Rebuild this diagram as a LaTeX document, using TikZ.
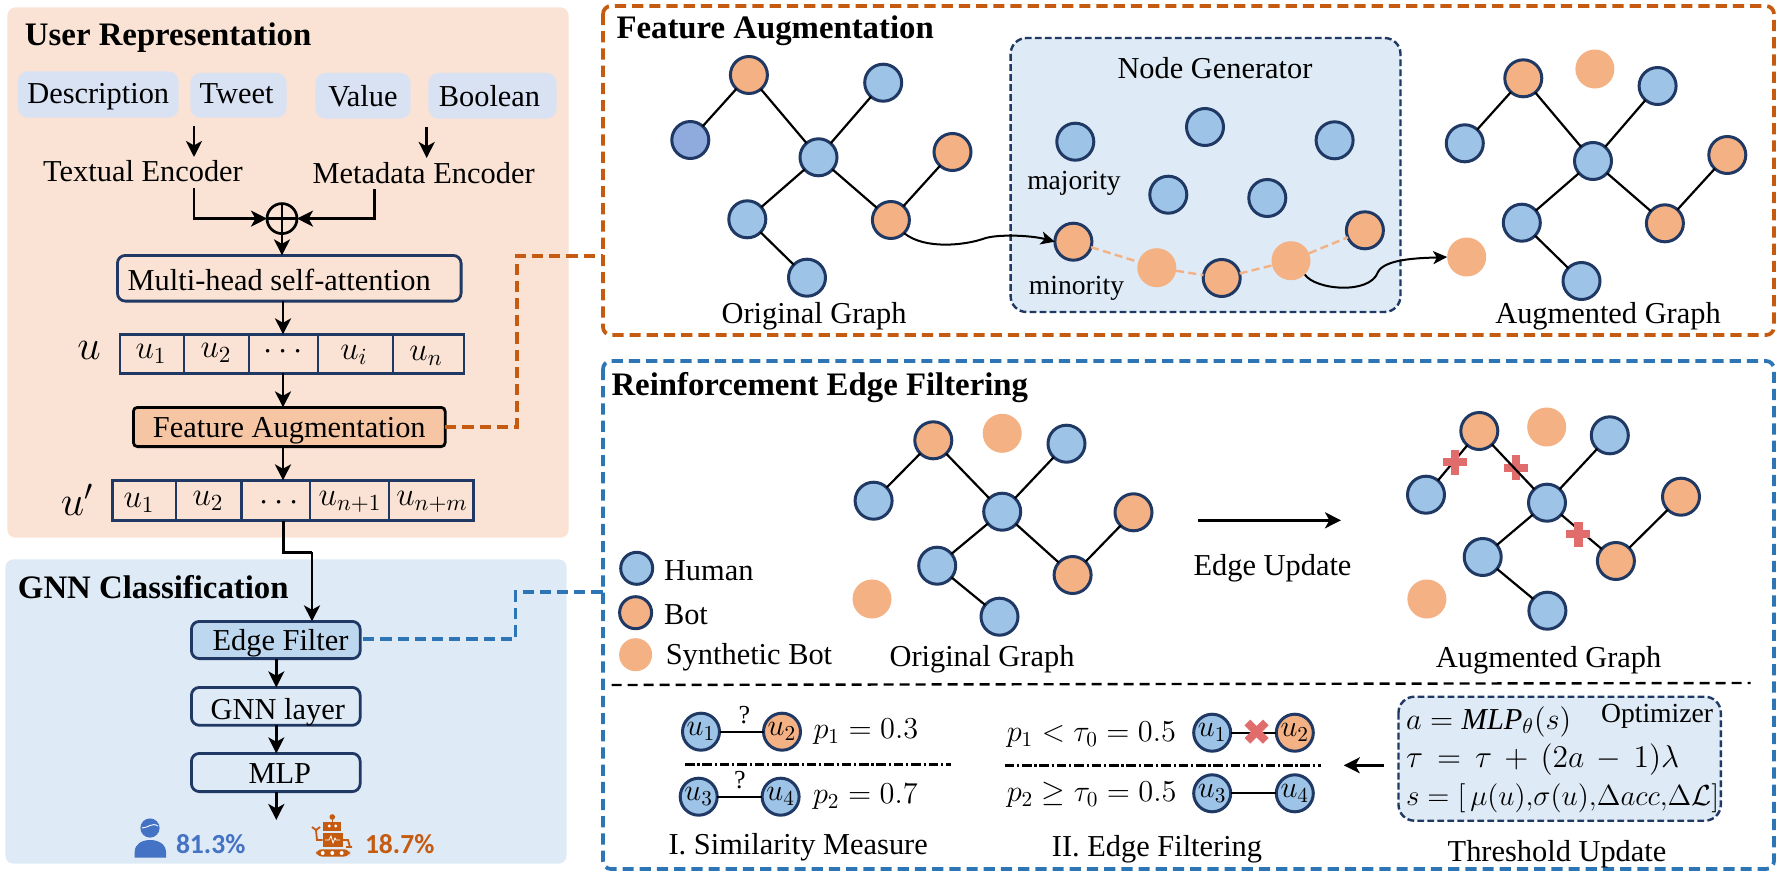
\RequirePackage{fix-cm}
\documentclass[tikz,border=0pt]{standalone}
\usepackage{fontspec}
\setmainfont{Liberation Serif}
\newfontfamily\calibri{Carlito}
\usetikzlibrary{arrows.meta}
\definecolor{panelO}{HTML}{FAE3D4}
\definecolor{panelB}{HTML}{DEEAF6}
\definecolor{chip}{HTML}{D9E2F3}
\definecolor{navy}{HTML}{1F3864}
\definecolor{nb}{HTML}{9DC3E6}
\definecolor{nbd}{HTML}{8FAADC}
\definecolor{no}{HTML}{F4B183}
\definecolor{dkO}{HTML}{C55A11}
\definecolor{dkB}{HTML}{2E75B6}
\definecolor{faFill}{HTML}{F6C6A4}
\definecolor{efFill}{HTML}{BDD7EE}
\definecolor{redx}{HTML}{E06C6C}
\definecolor{pctB}{HTML}{4472C4}
\newcommand\fsA{\fontsize{15.2}{18}\selectfont}
\newcommand\fsB{\fontsize{13.8}{16}\selectfont}
\newcommand\fsT{\bfseries\fontsize{16.4}{19}\selectfont}
\newcommand\fsU{\fontsize{21}{24}\selectfont}
\newcommand\fsC{\fontsize{16.5}{19}\selectfont}
\newcommand\lowr[2]{\raisebox{-#1}[\height][\depth]{#2}}
\tikzset{
  every node/.style={font=\fsA,inner sep=0pt,outer sep=0pt},
  arr/.style={line width=1.35pt,-{Stealth[length=8pt,width=8pt,inset=2.2pt]}},
  thin arr/.style={line width=1pt,-{Stealth[length=7pt,width=6.5pt,inset=1.8pt]}},
  edge/.style={line width=1.1pt},
  gn/.style={circle,draw=navy,line width=1.5pt,minimum size=18.5pt},
  syn/.style={circle,fill=no,minimum size=19.5pt},
  pbox/.style={draw=navy,line width=1.4pt,rounded corners=4pt},
  cellr/.style={draw=navy,line width=1.4pt},
  cellt/.style={font=\fsC},
  ttl/.style={font=\fsT,anchor=west},
  chipbox/.style={fill=chip,rounded corners=5pt},
  orangeD/.style={draw=dkO,line width=1.9pt,dash pattern=on 5.6pt off 3pt},
  blueD/.style={draw=dkB,line width=1.9pt,dash pattern=on 5.6pt off 3pt},
  navyD/.style={draw=navy,fill=panelB,line width=1.2pt,dash pattern=on 3.4pt off 1.6pt,rounded corners=8pt},
  ddot/.style={line width=1.2pt,dash pattern=on 4.8pt off 1.4pt on 1.1pt off 1.4pt},
}
\newcommand\pxbox[7][]{\node[#1,minimum width={(#5-#3)*0.5pt-1.4pt},minimum height={(#6-#4)*0.5pt-1.4pt}] (#2) at ({(#3+#5)/2},{(#4+#6)/2}) {#7};}
\newcommand\treeedges[1]{\draw[edge] (#1B)--(#1A) (#1A)--(#1D) (#1C)--(#1D) (#1D)--(#1F) (#1D)--(#1G) (#1E)--(#1G) (#1F)--(#1H);}
\newcommand\plusmark[2]{\fill[redx] ({#1-12},{#2-4.2}) rectangle ({#1+12},{#2+4.2}); \fill[redx] ({#1-4.2},{#2-12.5}) rectangle ({#1+4.2},{#2+12.5});}
\begin{document}
\begin{tikzpicture}[x=0.5pt,y=-0.5pt]
\useasboundingbox (0,0) rectangle (1785,878);
\fill[white] (0,0) rectangle (1785,878);
% panels
\pxbox[fill=panelO,rounded corners=4pt]{pUR}{6}{6}{570}{539}{}
\pxbox[fill=panelB,rounded corners=4pt]{pGNN}{4}{558}{568}{865}{}
\draw[orangeD,rounded corners=4pt] (603,6) rectangle (1774,335);
\draw[blueD,rounded corners=4pt] (603,361) rectangle (1774,869);
\node[ttl] (tUR) at (25,38) {User Representation};
\node[ttl] (tGNN) at (18,587) {GNN Classification};
\node[ttl] (tFA) at (616.5,31) {Feature Augmentation};
\node[ttl] (tRE) at (611.5,388) {Reinforcement Edge Filtering};
% chips
\pxbox[chipbox]{cD}{16.5}{70}{180}{119}{\lowr{1pt}{Description}}
\pxbox[chipbox]{cT}{189}{71.5}{288}{119}{\hspace*{-2pt}\lowr{-.8pt}{Tweet}}
\pxbox[chipbox]{cV}{314}{71.5}{412}{120}{\lowr{0pt}{Value}}
\pxbox[chipbox]{cB}{427}{71.5}{558}{120}{\hspace*{-3pt}Boolean}
\node (enT) at (143,171.5) {Textual Encoder};
\node (enM) at (423.6,173) {Metadata Encoder};
\coordinate (ta) at (194,126); \coordinate (tb) at (194,157);
\coordinate (ma) at (426.7,127); \coordinate (mb) at (426.7,158);
\draw[arr] (ta)--(tb);
\draw[arr] (ma)--(mb);
\node[circle,draw=black,line width=1.35pt,minimum size=15pt] (op) at (282,218.6) {};
\draw[line width=1.2pt] (op.north)--(op.south) (op.west)--(op.east);
\coordinate (tc) at (194,188); \coordinate (mc) at (374.3,189);
\draw[arr] (tc)|-(op.west);
\draw[arr] (mc)|-(op.east);
\pxbox[pbox]{attn}{116}{254}{462.5}{302.5}{\lowr{1pt}{Multi-head self-attention}\hspace*{10pt}}
\draw[arr] (op.south)--(op.south |- attn.north);
\coordinate (ax) at (283,0);
% u row
\pxbox[cellr]{urow}{118.6}{333}{465.4}{374.6}{}
\draw[line width=1.1pt,navy] (183.7,333)--(183.7,374.6) (248.8,333)--(248.8,374.6) (317.6,333)--(317.6,374.6) (393,333)--(393,374.6);
\node (uu) at (89,350) {\fsU$u$};
\node[cellt] (u1) at (151,354) {$u_1$};
\node[cellt] (u2) at (216,353) {$u_2$};
\node[cellt] (u3) at (283,352) {$\cdots$};
\node[cellt] (u4) at (354,355) {$u_i$};
\node[cellt] (u5) at (426,356) {$u_n$};
\draw[arr] (attn.south -| ax)--(urow.north -| ax);
\pxbox[draw=black,fill=faFill,line width=1.4pt,rounded corners=2pt]{fa}{132}{406}{446.6}{448}{\lowr{2pt}{Feature Augmentation}}
\draw[arr] (urow.south -| ax)--(fa.north -| ax);
\pxbox[cellr]{vrow}{111}{479}{474.5}{522}{}
\draw[line width=1.1pt,navy] (176,479)--(176,522) (241.5,479)--(241.5,522) (309.6,479)--(309.6,522) (389,479)--(389,522);
\node (vv) at (77,500) {\fsU$u'$};
\node[cellt] (v1) at (139,503) {$u_1$};
\node[cellt] (v2) at (208,501) {$u_2$};
\node[cellt] (v3) at (279,503) {$\cdots$};
\node[cellt] (v4) at (350,502) {$u_{n+1}$};
\node[cellt] (v5) at (432,502) {$u_{n+m}$};
\draw[arr] (fa.south -| ax)--(vrow.north -| ax);
% dashed links
\coordinate (fc1) at (516.6,427); \coordinate (fc2) at (516.6,255.7); \coordinate (fc3) at (603,255.7);
\draw[orangeD] (fa.east |- fc1)--(fc1)--(fc2)--(fc3);
% GNN stack
\pxbox[pbox,fill=efFill]{ef}{190}{620}{361.6}{660}{\hspace*{4.7pt}\lowr{1.7pt}{Edge Filter}}
\pxbox[pbox]{gl}{190}{686}{361.6}{726.7}{\hspace*{2pt}\lowr{2.8pt}{GNN layer}}
\pxbox[pbox]{mlp}{190}{752}{361.6}{793}{\hspace*{4pt}\lowr{.5pt}{MLP}}
\coordinate (bx) at (276.3,0);
\coordinate (j1) at (283,552); \coordinate (j2) at (312,552);
\draw[line width=1.5pt] (vrow.south -| ax)--(j1)--(j2);
\draw[arr] (j2)--(ef.north -| j2);
\draw[arr] (ef.south -| bx)--(gl.north -| bx);
\draw[arr] (gl.south -| bx)--(mlp.north -| bx);
\coordinate (out) at (276.3,820);
\draw[arr] (mlp.south -| bx)--(out);
\coordinate (bc1) at (515.5,639); \coordinate (bc2) at (515.5,592); \coordinate (bc3) at (603,592);
\draw[blueD] ([xshift=1.5pt]ef.east |- bc1)--(bc1)--(bc2)--(bc3);
% result icons
\fill[pctB] (134.7,857.7) -- (134.7,852) .. controls (134.7,844) and (142,840) .. (150,840) .. controls (158,840) and (166,844) .. (166,852) -- (166,857.7) -- cycle;
\fill[pctB] (150,828) circle (4.8pt);
\draw[white,line width=.45pt] (142,828) .. controls (148,828) and (152,822) .. (158,826);
\node[font=\calibri\bfseries\fontsize{13.8}{16}\selectfont,text=pctB,anchor=west] (pH) at (176,844) {81.3\%};
\fill[dkO] (323.3,821.7) rectangle (340.7,830.7);
\fill[dkO] (332.3,817) circle (1.4pt);
\draw[dkO,line width=.7pt] (332.3,817)--(332.3,822);
\fill[white] (329.3,826) circle (.8pt) (335.7,826) circle (.8pt);
\fill[dkO] (322.7,832.7) rectangle (342.7,847);
\draw[white,line width=.4pt] (325,840)--(329,840)--(331,836)--(333,843)--(335,838)--(336,840)--(340,840);
\fill[dkO,rounded corners=3pt] (316,849.3) rectangle (350,856.5);
\fill[white] (322.7,853) circle (1pt) (332.3,853) circle (1pt) (341.7,853) circle (1pt);
\draw[dkO,line width=.9pt] (322.7,840)--(317,840)--(316,830) (312,827)--(316,830)--(320,827);
\draw[dkO,line width=.9pt] (342.7,840)--(348,840)--(350,847) (346,847)--(352,847);
\node[font=\calibri\bfseries\fontsize{13.8}{16}\selectfont,text=dkO,anchor=west] (pB) at (365,844) {18.7\%};
% Feature augmentation: original graph
\foreach \n/\x/\y/\c in {A/748.9/75/no,B/690.3/140/nbd,C/883.2/82.7/nb,D/818.5/157.3/nb,E/952.5/152/no,F/747.3/219.3/nb,G/890.9/220/no,H/807/277.7/nb}
  {\node[gn,fill=\c] (a\n) at (\x,\y) {};}
\treeedges{a}
\node (lOG1) at (814,316) {Original Graph};
% node generator
\draw[navyD] (1010.6,38) rectangle (1400.5,312);
\node (lNG) at (1215,68) {Node Generator};
\foreach \n/\x/\y/\c in {n1/1075.3/141.7/nb,n2/1205/127/nb,n3/1334.6/140.3/nb,n4/1168.3/194.7/nb,n5/1267.3/198/nb,m1/1073.4/241.7/no,m2/1221.7/278/no,m3/1364.9/230.3/no}
  {\node[gn,fill=\c] (\n) at (\x,\y) {};}
\node[syn] (s1) at (1156.8,267.7) {};
\node[syn] (s2) at (1291,260.7) {};
\draw[no,line width=1.2pt,dash pattern=on 4pt off 2.2pt] (m1)--(s1) (s1)--(m2) (m2)--(s2) (s2)--(m3);
\node[font=\fsB] (lmaj) at (1074,183) {majority};
\node[font=\fsB] (lmin) at (1076.5,288) {minority};
% augmented graph
\foreach \n/\x/\y/\c in {A/1523.3/78.3/no,B/1464.8/143.3/nb,C/1657.6/86/nb,D/1593/161/nb,E/1727.3/155/no,F/1521.8/222.7/nb,G/1664.9/223.3/no,H/1581.5/281/nb}
  {\node[gn,fill=\c] (b\n) at (\x,\y) {};}
\treeedges{b}
\node[syn] (bS1) at (1594.9,69) {};
\node[syn] (bS2) at (1466.7,257) {};
\node (lAG1) at (1608,316) {Augmented Graph};
\draw[thin arr] (aG.south east) .. controls (925,250) and (965,245) .. (982.7,239) .. controls (995,234) and (1030,235) .. (m1.west);
\draw[thin arr] (s2.south east) .. controls (1315,290) and (1370,295) .. (1378,272) .. controls (1385,258) and (1425,258) .. (bS2.west);
% reinforcement: legend
\node[gn,fill=nb,minimum size=16pt] (lgH) at (636.7,568.3) {};
\node[anchor=west] (ltH) at (664,571) {Human};
\node[gn,fill=no,minimum size=16pt] (lgB) at (635.6,612.7) {};
\node[anchor=west] (ltB) at (664,615) {Bot};
\node[syn,minimum size=16.5pt] (lgS) at (635.6,654.7) {};
\node[anchor=west] (ltS) at (665.8,657) {Synthetic Bot};
% graph 3
\foreach \n/\x/\y/\c in {A/933.3/440.3/no,B/873.6/500.7/nb,C/1066.5/443.7/nb,D/1002.2/511.7/nb,E/1133.5/512.3/no,F/937.2/565.7/nb,G/1072.6/575/no,H/999.5/616.7/nb}
  {\node[gn,fill=\c] (c\n) at (\x,\y) {};}
\treeedges{c}
\node[syn] (cS1) at (1002.2,433.3) {};
\node[syn] (cS2) at (872,599) {};
\node (lOG2) at (982,659) {Original Graph};
\coordinate (eu1) at (1198.4,520.3); \coordinate (eu2) at (1341,520.3);
\draw[arr] (eu1)--(eu2);
\node (lEU) at (1272.5,568) {Edge Update};
% graph 4
\plusmark{1516}{467.7}
\foreach \n/\x/\y/\c in {A/1479.3/431/no,B/1426/494.7/nb,C/1609.8/435.3/nb,D/1547/502.7/nb,E/1681/496.7/no,F/1482.7/557/nb,G/1615.9/561/no,H/1547.4/610.7/nb}
  {\node[gn,fill=\c] (d\n) at (\x,\y) {};}
\treeedges{d}
\plusmark{1454.8}{462}
\plusmark{1578.4}{534}
\node[syn] (dS1) at (1546.7,427) {};
\node[syn] (dS2) at (1426.9,599) {};
\node (lAG2) at (1548.6,660) {Augmented Graph};
% separator
\coordinate (sp1) at (611.5,685); \coordinate (sp2) at (1750.6,683);
\draw[line width=1.2pt,dash pattern=on 5pt off 3pt] (sp1)--(sp2);
% similarity
\node[gn,fill=nb] (k1) at (701,731.7) {$u_1$};
\node[gn,fill=no] (k2) at (782,731.7) {$u_2$};
\draw[edge] (k1)--(k2);
\node[font=\fontsize{13}{15}\selectfont] (q1) at (744.3,715) {?};
\node[gn,fill=nb] (k3) at (698.7,796.7) {$u_3$};
\node[gn,fill=nb] (k4) at (780.6,796.7) {$u_4$};
\draw[edge] (k3)--(k4);
\node[font=\fontsize{13}{15}\selectfont] (q2) at (740,780) {?};
\node[anchor=west] (p1) at (813.5,731.7) {$p_1=0.3$};
\node[anchor=west] (p2) at (813,796.7) {$p_2=0.7$};
\coordinate (d1) at (685,764.3); \coordinate (d2) at (951.3,764.3);
\draw[ddot] (d1)--(d2);
\node (lSM) at (798.2,847) {I. Similarity Measure};
% filtering
\node[anchor=west] (f1) at (1006.8,735) {$p_1<\tau_0=0.5$};
\node[anchor=west] (f2) at (1006.8,795) {$p_2\geq\tau_0=0.5$};
\coordinate (d3) at (1004.5,765.3); \coordinate (d4) at (1320.9,765.3);
\draw[ddot] (d3)--(d4);
\node[gn,fill=nb] (h1) at (1212.2,732.7) {$u_1$};
\node[gn,fill=no] (h2) at (1294.8,732.7) {$u_2$};
\draw[edge] (h1)--(h2);
\fill[redx,rotate around={45:(1256.6,731.7)}] (1243.6,727.7) rectangle (1269.6,735.7);
\fill[redx,rotate around={-45:(1256.6,731.7)}] (1243.6,727.7) rectangle (1269.6,735.7);
\node[gn,fill=nb] (h3) at (1212.2,793.3) {$u_3$};
\node[gn,fill=nb] (h4) at (1294.8,793.3) {$u_4$};
\draw[edge] (h3)--(h4);
\node (lEF) at (1157,849) {II. Edge Filtering};
% optimizer
\draw[navyD] (1398.5,696.7) rectangle (1720.8,820.7);
\coordinate (oa) at (1384,765.3); \coordinate (ob) at (1343.8,765.3);
\draw[arr] (oa)--(ob);
\node[anchor=west] (e1) at (1406,721.7) {$a=\mathit{MLP}_{\theta}(s)$};
\node[anchor=east,font=\fsB] (lOpt) at (1713,716.7) {Optimizer};
\node[anchor=west,font=\fontsize{15.8}{18}\selectfont] (e2) at (1406,760) {$\tau\,=\,\tau\,+\,(2a\,-\,1)\lambda$};
\node[anchor=west,font=\fontsize{14.5}{17}\selectfont] (e3) at (1406,798.3) {$s=[\,\mu(u){,}\sigma(u){,}\Delta acc{,}\Delta\mathcal{L}]$};
\node (lTU) at (1557,854) {Threshold Update};
\end{tikzpicture}
\end{document}
